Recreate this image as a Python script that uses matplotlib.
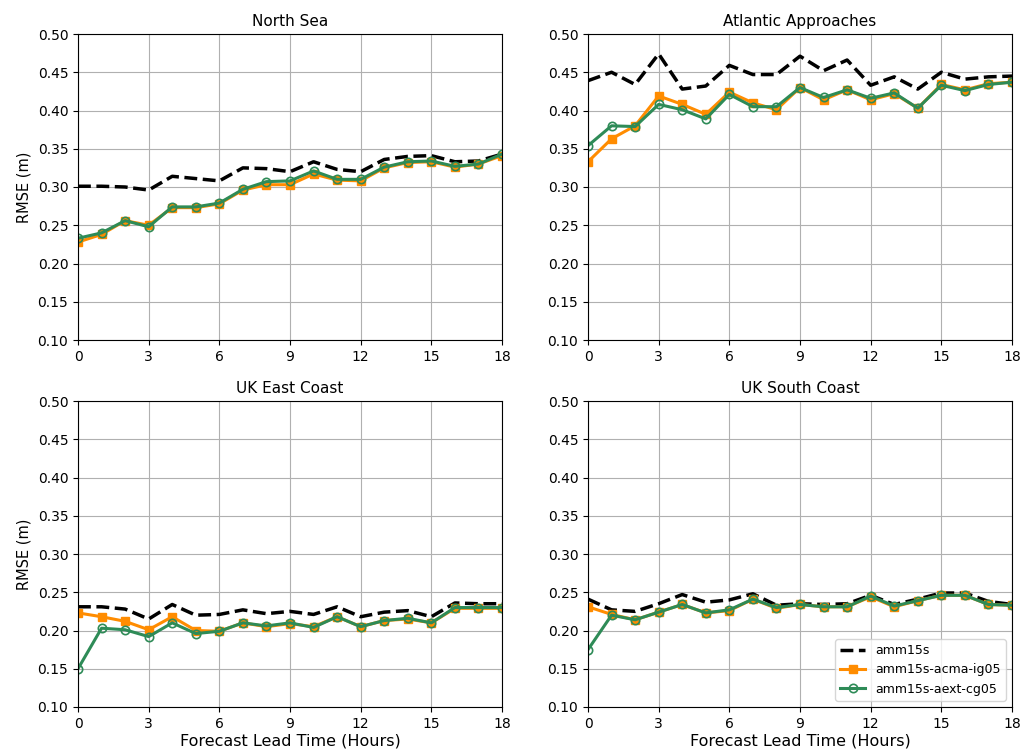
import matplotlib
matplotlib.use("Agg")
import matplotlib.pyplot as plt
import numpy as np

hours = list(range(19))
titles = ["North Sea", "Atlantic Approaches", "UK East Coast", "UK South Coast"]
labels = ["amm15s", "amm15s-acma-ig05", "amm15s-aext-cg05"]

ns_ctrl = [0.301, 0.301, 0.300, 0.296, 0.314, 0.311, 0.308, 0.325, 0.324, 0.320,
           0.333, 0.323, 0.320, 0.336, 0.340, 0.341, 0.333, 0.334, 0.343]
ns_acma = [0.228, 0.238, 0.256, 0.250, 0.273, 0.273, 0.278, 0.296, 0.303, 0.303,
           0.317, 0.309, 0.308, 0.325, 0.332, 0.333, 0.326, 0.330, 0.341]
ns_aext = [0.233, 0.240, 0.256, 0.248, 0.274, 0.274, 0.279, 0.297, 0.307, 0.308,
           0.321, 0.310, 0.310, 0.326, 0.333, 0.334, 0.327, 0.330, 0.343]

aa_ctrl = [0.439, 0.450, 0.434, 0.474, 0.428, 0.432, 0.459, 0.447, 0.447, 0.471,
           0.452, 0.466, 0.433, 0.444, 0.428, 0.450, 0.441, 0.444, 0.445]
aa_acma = [0.333, 0.363, 0.380, 0.419, 0.408, 0.395, 0.424, 0.410, 0.401, 0.430,
           0.414, 0.427, 0.414, 0.422, 0.403, 0.434, 0.427, 0.435, 0.437]
aa_aext = [0.354, 0.380, 0.379, 0.408, 0.401, 0.389, 0.421, 0.405, 0.405, 0.430,
           0.417, 0.427, 0.416, 0.423, 0.403, 0.433, 0.426, 0.434, 0.437]

ec_ctrl = [0.231, 0.231, 0.228, 0.215, 0.234, 0.220, 0.221, 0.227, 0.222, 0.225,
           0.221, 0.231, 0.218, 0.224, 0.226, 0.218, 0.236, 0.235, 0.235]
ec_acma = [0.223, 0.218, 0.212, 0.201, 0.218, 0.200, 0.199, 0.210, 0.205, 0.209,
           0.205, 0.218, 0.205, 0.213, 0.215, 0.210, 0.229, 0.229, 0.229]
ec_aext = [0.150, 0.203, 0.201, 0.192, 0.210, 0.196, 0.199, 0.210, 0.206, 0.210,
           0.204, 0.218, 0.205, 0.213, 0.216, 0.210, 0.230, 0.230, 0.230]

sc_ctrl = [0.241, 0.227, 0.225, 0.235, 0.247, 0.237, 0.240, 0.248, 0.233, 0.235,
           0.234, 0.235, 0.246, 0.234, 0.241, 0.249, 0.249, 0.238, 0.234]
sc_acma = [0.231, 0.221, 0.214, 0.224, 0.234, 0.223, 0.226, 0.241, 0.229, 0.234,
           0.231, 0.231, 0.244, 0.231, 0.239, 0.246, 0.246, 0.234, 0.233]
sc_aext = [0.175, 0.220, 0.214, 0.224, 0.234, 0.223, 0.227, 0.241, 0.230, 0.234,
           0.231, 0.231, 0.245, 0.232, 0.239, 0.246, 0.246, 0.234, 0.233]

panels = [
    (ns_ctrl, ns_acma, ns_aext),
    (aa_ctrl, aa_acma, aa_aext),
    (ec_ctrl, ec_acma, ec_aext),
    (sc_ctrl, sc_acma, sc_aext),
]

xticks = [0, 3, 6, 9, 12, 15, 18]
yticks = [0.10, 0.15, 0.20, 0.25, 0.30, 0.35, 0.40, 0.45, 0.50]

plt.rcParams["font.family"] = "DejaVu Sans"
fig = plt.figure(figsize=(10.21, 7.56), dpi=100)

W, H = 1021.0, 756.0
lefts = [78, 588, 78, 588]
tops = [34, 34, 401, 401]
aw, ah = 424, 306

for i, (ctrl, acma, aext) in enumerate(panels):
    ax = fig.add_axes([lefts[i] / W, 1 - (tops[i] + ah) / H, aw / W, ah / H])
    ax.plot(hours, ctrl, color="black", linestyle="--", linewidth=2.5, label=labels[0])
    ax.plot(hours, acma, color="darkorange", linewidth=2.2, marker="s", markersize=6,
            label=labels[1])
    ax.plot(hours, aext, color="seagreen", linewidth=2.2, marker="o", markersize=6,
            markerfacecolor="none", markeredgewidth=1.2, label=labels[2])
    ax.set_xlim(0, 18)
    ax.set_ylim(0.10, 0.50)
    ax.set_xticks(xticks)
    ax.set_yticks(yticks)
    ax.set_yticklabels([f"{v:.2f}" for v in yticks])
    ax.grid(True, color="#b0b0b0", linewidth=0.8)
    ax.set_axisbelow(True)
    ax.set_title(titles[i], fontsize=11)
    ax.tick_params(labelsize=10)
    if i % 2 == 0:
        ax.set_ylabel("RMSE (m)", fontsize=10.5)
    if i >= 2:
        ax.set_xlabel("Forecast Lead Time (Hours)", fontsize=11.5, labelpad=2)
    if i == 3:
        ax.legend(loc="lower right", fontsize=9)

fig.savefig("out.png", dpi=100)
